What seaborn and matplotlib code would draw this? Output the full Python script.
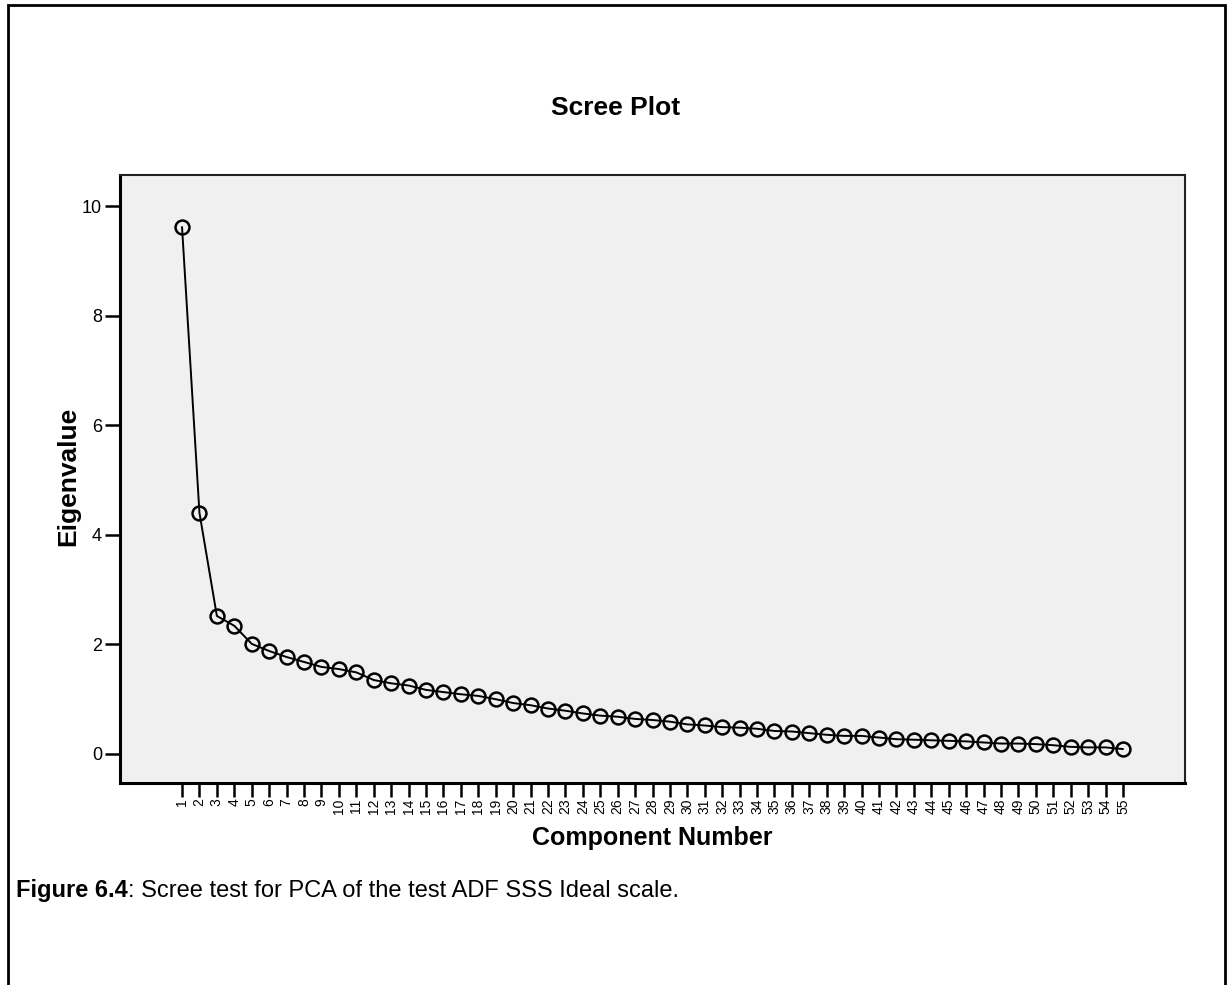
import matplotlib
matplotlib.use("Agg")

import matplotlib.pyplot as plt
import seaborn as sns
import pandas as pd
from matplotlib.patches import Rectangle

# Scree plot values
components = list(range(1, 56))
eigenvalues = [
    9.62, 4.40, 2.52, 2.34, 2.01, 1.88, 1.77, 1.68, 1.59, 1.55,
    1.49, 1.35, 1.29, 1.25, 1.17, 1.13, 1.09, 1.06, 1.00, 0.93,
    0.89, 0.83, 0.79, 0.74, 0.70, 0.68, 0.64, 0.62, 0.59, 0.54,
    0.52, 0.49, 0.48, 0.46, 0.42, 0.41, 0.38, 0.35, 0.33, 0.33,
    0.30, 0.27, 0.26, 0.25, 0.24, 0.23, 0.21, 0.19, 0.19, 0.18,
    0.16, 0.13, 0.12, 0.12, 0.09,
]
y_ticks = [0, 2, 4, 6, 8, 10]

df = pd.DataFrame({"Component Number": components, "Eigenvalue": eigenvalues})

sns.set_style("white")
REG = ["Liberation Sans", "DejaVu Sans"]
plt.rcParams["font.family"] = REG
plt.rcParams["text.color"] = "black"
plt.rcParams["xtick.color"] = "black"
plt.rcParams["ytick.color"] = "black"

W, H = 1231, 985
fig = plt.figure(figsize=(W / 100, H / 100), dpi=100)
ax = fig.add_axes([120 / W, 1 - 783 / H, (1185 - 120) / W, (783 - 175) / H])
ax.set_facecolor("#f0f0f0")

sns.lineplot(data=df, x="Component Number", y="Eigenvalue", ax=ax,
             color="black", linewidth=1.4, marker="o", markersize=10,
             markerfacecolor="none", markeredgecolor="black",
             markeredgewidth=1.8)

ax.set_xlim(-2.56, 58.56)
ax.set_ylim(-0.53, 10.57)
ax.set_xticks(components)
ax.set_xticklabels([str(c) for c in components], rotation=90, fontsize=10)
ax.set_yticks(y_ticks)
ax.set_yticklabels([str(v) for v in y_ticks], fontsize=13)
ax.tick_params(axis="x", length=10, width=1.8, pad=1, direction="out",
               bottom=True)
ax.tick_params(axis="y", length=11, width=1.8, pad=2, direction="out",
               left=True)
ax.set_xlabel("")
ax.set_ylabel("")

for side in ["left", "bottom"]:
    ax.spines[side].set_linewidth(2.2)
    ax.spines[side].set_color("black")
for side in ["top", "right"]:
    ax.spines[side].set_linewidth(1.5)
    ax.spines[side].set_color("#222222")

# titles and labels
fig.text(616 / W, 1 - 108 / H, "Scree Plot", ha="center", va="center",
         fontsize=19, fontweight="bold")
fig.text(652 / W, 1 - 838 / H, "Component Number", ha="center", va="center",
         fontsize=18, fontweight="bold")
fig.text(68 / W, 1 - 476 / H, "Eigenvalue", ha="center", va="center",
         rotation=90, fontsize=19, fontweight="bold")

# caption below the chart: bold part, then the rest right after it
cap = fig.text(16 / W, 1 - 897 / H, "Figure 6.4", ha="left", va="baseline",
               fontsize=17, fontweight="bold")
rest = fig.text(0, 1 - 897 / H,
                ": Scree test for PCA of the test ADF SSS Ideal scale.",
                fontsize=17, ha="left", va="baseline")
fig.canvas.draw()
bb = cap.get_window_extent()
rest.set_x(bb.x1 / W)

# outer frame
fig.patches.append(Rectangle((8 / W, -0.01), (1225 - 8) / W, 1.01 - 5 / H,
                             transform=fig.transFigure, fill=False,
                             edgecolor="black", linewidth=2.0))

fig.savefig("out.png", dpi=100)
